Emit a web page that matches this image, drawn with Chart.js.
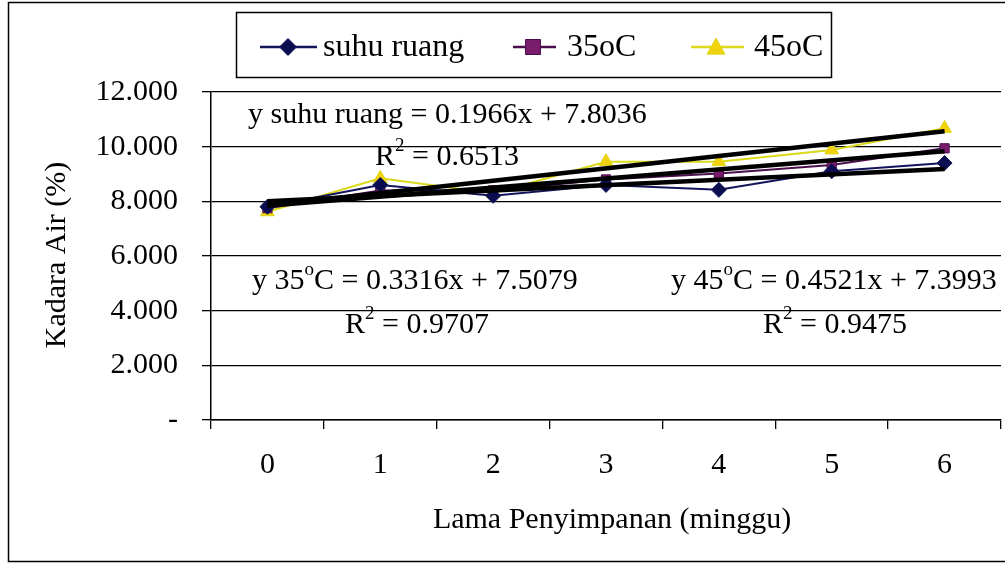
<!DOCTYPE html>
<html>
<head>
<meta charset="utf-8">
<script src="https://cdn.jsdelivr.net/npm/chart.js@4.4.1/dist/chart.umd.min.js"></script>
<style>
  html, body { margin: 0; padding: 0; background: #fff; overflow: hidden; }
  #wrap { position: relative; width: 1010px; height: 565px; }
</style>
</head>
<body>
<div id="wrap"><canvas id="c"></canvas></div>
<script>
// ---- data ----
const weeks = ['0', '1', '2', '3', '4', '5', '6'];
const seriesNames = ['suhu ruang', '35oC', '45oC'];
const suhuRuang = [7.80, 8.60, 8.20, 8.60, 8.42, 9.10, 9.40];
const t35 = [7.75, 8.40, 8.40, 8.80, 9.02, 9.33, 9.94];
const t45 = [7.62, 8.84, 8.30, 9.45, 9.45, 9.88, 10.67];
// trendline end values (start at week 0, end at week 6)
const trendSuhu = [8.00, 9.18];
const trend35 = [7.84, 9.83];
const trend45 = [7.85, 10.56];
const yTicks = [0, 2, 4, 6, 8, 10, 12];
const eqLabels = [
  { parts: [['y suhu ruang = 0.1966x + 7.8036']], x: 248, y: 123 },
  { parts: [['R'], ['2', 1], [' = 0.6513']], x: 375, y: 165 },
  { parts: [['y 35'], ['o', 1], ['C = 0.3316x + 7.5079']], x: 252, y: 289 },
  { parts: [['R'], ['2', 1], [' = 0.9707']], x: 345, y: 333 },
  { parts: [['y 45'], ['o', 1], ['C = 0.4521x + 7.3993']], x: 671, y: 289 },
  { parts: [['R'], ['2', 1], [' = 0.9475']], x: 763, y: 333 }
];
const xTitle = 'Lama Penyimpanan (minggu)';
const yTitle = 'Kadara Air (%)';

const FONT = '"Liberation Serif", "Times New Roman", serif';

function trendArr(v) {
  const a = new Array(weeks.length).fill(null);
  a[0] = v[0]; a[weeks.length - 1] = v[1];
  return a;
}

const styles = [
  { color: '#14145a', fill: '#0c0c50', point: 'rectRot', r: 7.5 },
  { color: '#4a0e4e', fill: '#7a1c6e', point: 'rect', r: 6.5 },
  { color: '#dcd81c', fill: '#f2d20c', point: 'triangle', r: 8 }
];

const dataSets = [suhuRuang, t35, t45].map((d, i) => ({
  label: seriesNames[i],
  data: d,
  borderColor: styles[i].color,
  backgroundColor: styles[i].fill,
  pointBackgroundColor: styles[i].fill,
  pointBorderColor: styles[i].color,
  pointStyle: styles[i].point,
  pointRadius: styles[i].r,
  pointBorderWidth: 1,
  borderWidth: 2,
  order: 2,
  tension: 0
}));
const trendSets = [trendSuhu, trend35, trend45].map((t, i) => ({
  label: 'trend ' + seriesNames[i],
  data: trendArr(t),
  borderColor: '#000',
  borderWidth: 4.5,
  pointRadius: 0,
  spanGaps: true,
  order: 1
}));

function drawMarker(ctx, style, x, y, r) {
  if (style === 'rectRot') {
    ctx.moveTo(x, y - r); ctx.lineTo(x + r, y); ctx.lineTo(x, y + r); ctx.lineTo(x - r, y); ctx.closePath();
  } else if (style === 'rect') {
    ctx.rect(x - r, y - r, 2 * r, 2 * r);
  } else {
    ctx.moveTo(x, y - r); ctx.lineTo(x + r, y + r * 0.8); ctx.lineTo(x - r, y + r * 0.8); ctx.closePath();
  }
}

const overlay = {
  id: 'overlay',
  afterDraw(chart) {
    const ctx = chart.ctx;
    ctx.save();
    // frame
    ctx.strokeStyle = '#000';
    ctx.lineWidth = 1.5;
    ctx.strokeRect(8.5, 2.5, 1100, 559);

    // legend box
    ctx.strokeRect(236.5, 12.5, 595, 65);
    const items = [
      { x0: 260, x1: 317, m: 288, tx: 323 },
      { x0: 513, x1: 556, m: 533, tx: 567 },
      { x0: 691, x1: 744, m: 716, tx: 754 }
    ];
    const ly = 47;
    items.forEach((it, i) => {
      const ds = chart.data.datasets[i];
      ctx.strokeStyle = ds.borderColor;
      ctx.lineWidth = 2.5;
      ctx.beginPath(); ctx.moveTo(it.x0, ly); ctx.lineTo(it.x1, ly); ctx.stroke();
      ctx.fillStyle = ds.pointBackgroundColor;
      ctx.strokeStyle = ds.pointBorderColor;
      ctx.lineWidth = 1;
      ctx.beginPath();
      drawMarker(ctx, ds.pointStyle, it.m, ly, ds.pointRadius + 1);
      ctx.fill(); ctx.stroke();
      ctx.fillStyle = '#000';
      ctx.font = '32px ' + FONT;
      ctx.textBaseline = 'middle';
      ctx.textAlign = 'left';
      ctx.fillText(ds.label, it.tx, ly + 1);
    });

    // equation labels
    ctx.fillStyle = '#000';
    ctx.textBaseline = 'alphabetic';
    eqLabels.forEach(lab => {
      let x = lab.x;
      lab.parts.forEach(p => {
        if (p[1]) {
          ctx.font = '19px ' + FONT;
          ctx.fillText(p[0], x, lab.y - 14);
        } else {
          ctx.font = '30px ' + FONT;
          ctx.fillText(p[0], x, lab.y);
        }
        x += ctx.measureText(p[0]).width;
      });
    });

    // axis titles
    ctx.font = '30px ' + FONT;
    ctx.textAlign = 'center';
    ctx.textBaseline = 'middle';
    ctx.fillText(xTitle, 612, 520);
    ctx.translate(57, 255);
    ctx.rotate(-Math.PI / 2);
    ctx.fillText(yTitle, 0, 0);
    ctx.restore();
  }
};

new Chart(document.getElementById('c'), {
  type: 'line',
  data: { labels: weeks, datasets: [...dataSets, ...trendSets] },
  options: {
    responsive: true,
    maintainAspectRatio: false,
    animation: false,
    devicePixelRatio: 1,
    layout: { padding: { top: 92, right: 1, left: 0, bottom: 0 } },
    plugins: { legend: { display: false }, tooltip: { enabled: false } },
    scales: {
      x: {
        type: 'category',
        offset: true,
        grid: { offset: true, drawOnChartArea: false, color: '#000', lineWidth: 1.3, tickLength: 9 },
        border: { color: '#000', width: 1.5 },
        ticks: { color: '#000', font: { family: FONT, size: 30 }, padding: 18 },
        afterFit(s) { s.height = 145; }
      },
      y: {
        min: 0, max: 12,
        afterBuildTicks(s) { s.ticks = yTicks.map(v => ({ value: v })); },
        grid: { color: '#000', lineWidth: 1.3, tickLength: 9 },
        border: { color: '#000', width: 1.5 },
        ticks: {
          color: '#000', font: { family: FONT, size: 30 }, padding: 24,
          callback: v => v === 0 ? '-' : v.toFixed(3)
        },
        afterFit(s) { s.width = 211; }
      }
    }
  },
  plugins: [overlay]
});
</script>
</body>
</html>
